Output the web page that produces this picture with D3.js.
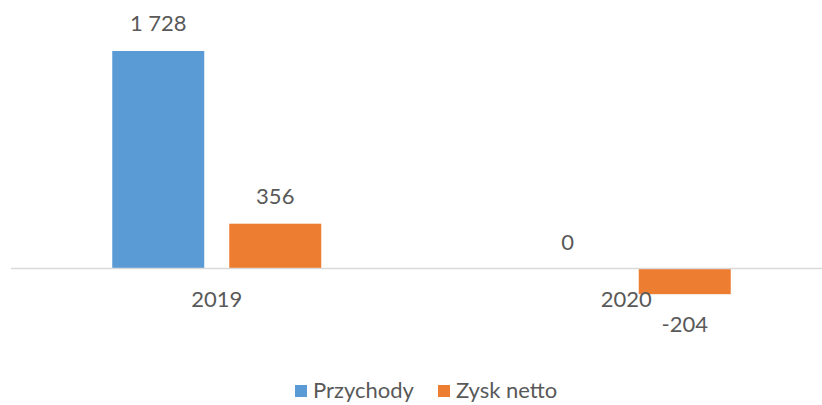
<!DOCTYPE html>
<html>
<head>
<meta charset="utf-8">
<script src="https://cdn.jsdelivr.net/npm/d3@7"></script>
<style>
  body { margin: 0; background: #fff; }
  text { font-family: Lato, "Open Sans", sans-serif; fill: #595959; }
</style>
</head>
<body>
<div id="chart"></div>
<script>
// data
var years = ["2019", "2020"];
var seriesNames = ["Przychody", "Zysk netto"];
var przychody = [1728, 0];
var zyskNetto = [356, -204];
var colors = ["#5B9BD5", "#ED7D31"];

var w = 822, h = 405;
// space as thousands separator, plain hyphen for negatives
var fmt = function(v) { return d3.format(",")(v).replace(/,/g, " ").replace("\u2212", "-"); };

var svg = d3.select("#chart").append("svg")
  .attr("width", w).attr("height", h);

var x0 = d3.scaleBand().domain(years).range([12, 831]);
var x1 = d3.scaleBand().domain(seriesNames).range([-104.5, 104.5]).paddingInner(25 / 117);
var y = d3.scaleLinear().domain([0, 1728]).range([268.5, 51]);

var rows = [];
years.forEach(function(yr, i) {
  rows.push({ year: yr, s: 0, v: przychody[i] });
  rows.push({ year: yr, s: 1, v: zyskNetto[i] });
});

// bars
svg.selectAll("rect.bar")
  .data(rows)
  .enter().append("rect")
  .attr("class", "bar")
  .attr("x", function(d) { return x0(d.year) + x0.bandwidth() / 2 + x1(seriesNames[d.s]); })
  .attr("width", x1.bandwidth())
  .attr("y", function(d) { return y(Math.max(0, d.v)); })
  .attr("height", function(d) { return Math.abs(y(d.v) - y(0)); })
  .attr("fill", function(d) { return colors[d.s]; });

// axis line
svg.append("line")
  .attr("x1", 11).attr("x2", w)
  .attr("y1", y(0)).attr("y2", y(0))
  .attr("stroke", "#D9D9D9").attr("stroke-width", 1.5);

// value labels
svg.selectAll("text.val")
  .data(rows)
  .enter().append("text")
  .attr("class", "val")
  .attr("text-anchor", "middle")
  .attr("font-size", "22px")
  .attr("x", function(d) { return x0(d.year) + x0.bandwidth() / 2 + x1(seriesNames[d.s]) + x1.bandwidth() / 2; })
  .attr("y", function(d) {
    if (d.v < 0) return y(d.v) + 38;
    if (d.v == 0) return y(0) - 18.5;
    return y(d.v) - 20;
  })
  .text(function(d) { return fmt(d.v); });

// category labels
svg.selectAll("text.cat")
  .data(years)
  .enter().append("text")
  .attr("class", "cat")
  .attr("text-anchor", "middle")
  .attr("font-size", "22px")
  .attr("x", function(d) { return x0(d) + x0.bandwidth() / 2; })
  .attr("y", 307)
  .text(function(d) { return d; });

// legend
var legendX = [295, 438];
var lg = svg.selectAll("g.legend")
  .data(seriesNames)
  .enter().append("g")
  .attr("class", "legend")
  .attr("transform", function(d, i) { return "translate(" + legendX[i] + ",385)"; });
lg.append("rect")
  .attr("width", 12).attr("height", 12)
  .attr("fill", function(d, i) { return colors[i]; });
lg.append("text")
  .attr("x", 18).attr("y", 13)
  .attr("font-size", "22px")
  .text(function(d) { return d; });
</script>
</body>
</html>
